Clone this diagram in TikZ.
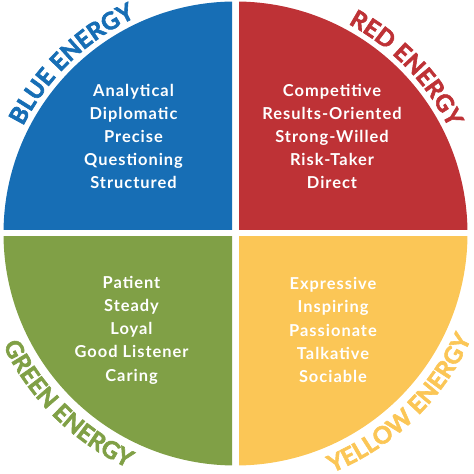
\documentclass[tikz,border=0pt]{standalone}
\usepackage{fontspec}
\setmainfont{Lato}
\newfontfamily\energyfamily{Lato}[BoldFeatures = {FakeBold = 2.5}, UprightFeatures = {FakeBold = 2.5}]
\newfontfamily\traitfamily{Lato}[LetterSpace = 6]
\usetikzlibrary{decorations.text}
\definecolor{myblue}{RGB}{23, 110, 181}
\definecolor{myred}{RGB}{190, 50, 54}
\definecolor{mygreen}{RGB}{128, 160, 70}
\definecolor{myyellow}{RGB}{251, 198, 86}
\tikzset{traits/.style = {text = white, align = center, font = \traitfamily\bfseries\fontsize{16.5}{23.3}\selectfont}}
\newcommand{\energyfont}{\energyfamily\bfseries\fontsize{24}{24}\selectfont}

\begin{document}
\begin{tikzpicture}[x = 1bp, y = 1bp]
\useasboundingbox (-235.5,-240.5) rectangle (238.5,233.5);
% quadrants
\begin{scope}
\clip (-240,3.5) rectangle (-3.5,240);
\fill[myblue] (0,0) circle [radius = 232];
\end{scope}
\begin{scope}
\clip (3.5,3.5) rectangle (240,240);
\fill[myred] (0,0) circle [radius = 232];
\end{scope}
\begin{scope}
\clip (-240,-3.5) rectangle (-3.5,-245);
\fill[mygreen] (0,0) circle [radius = 232];
\end{scope}
\begin{scope}
\clip (3.5,-3.5) rectangle (240,-245);
\fill[myyellow] (0,0) circle [radius = 232];
\end{scope}
% names round the rim
\path[decorate, decoration = {text along path, text align = center,
  text = {|\energyfont\color{myblue}|BLUE ENERGY}}] (174:238) arc (174:94:238);
\path[decorate, decoration = {text along path, text align = center,
  text = {|\energyfont\color{myred}|RED ENERGY}}] (84:238) arc (84:4:238);
\path[decorate, decoration = {text along path, text align = center,
  text = {|\energyfont\color{mygreen}|GREEN ENERGY}}] (185:258) arc (185:266:258);
\path[decorate, decoration = {text along path, text align = center,
  text = {|\energyfont\color{myyellow}|YELLOW ENERGY}}] (274:258) arc (274:354:258);
% traits
\node[traits] (bluetraits) at (-102, 97) {Analytical\\Diplomatic\\Precise\\Questioning\\Structured};
\node[traits] (redtraits) at (96.5, 97) {Competitive\\Results-Oriented\\Strong-Willed\\Risk-Taker\\Direct};
\node[traits] (greentraits) at (-104, -96.5) {Patient\\Steady\\Loyal\\Good Listener\\Caring};
\node[traits] (yellowtraits) at (97.5, -96.5) {Expressive\\Inspiring\\Passionate\\Talkative\\Sociable};
\end{tikzpicture}
\end{document}
